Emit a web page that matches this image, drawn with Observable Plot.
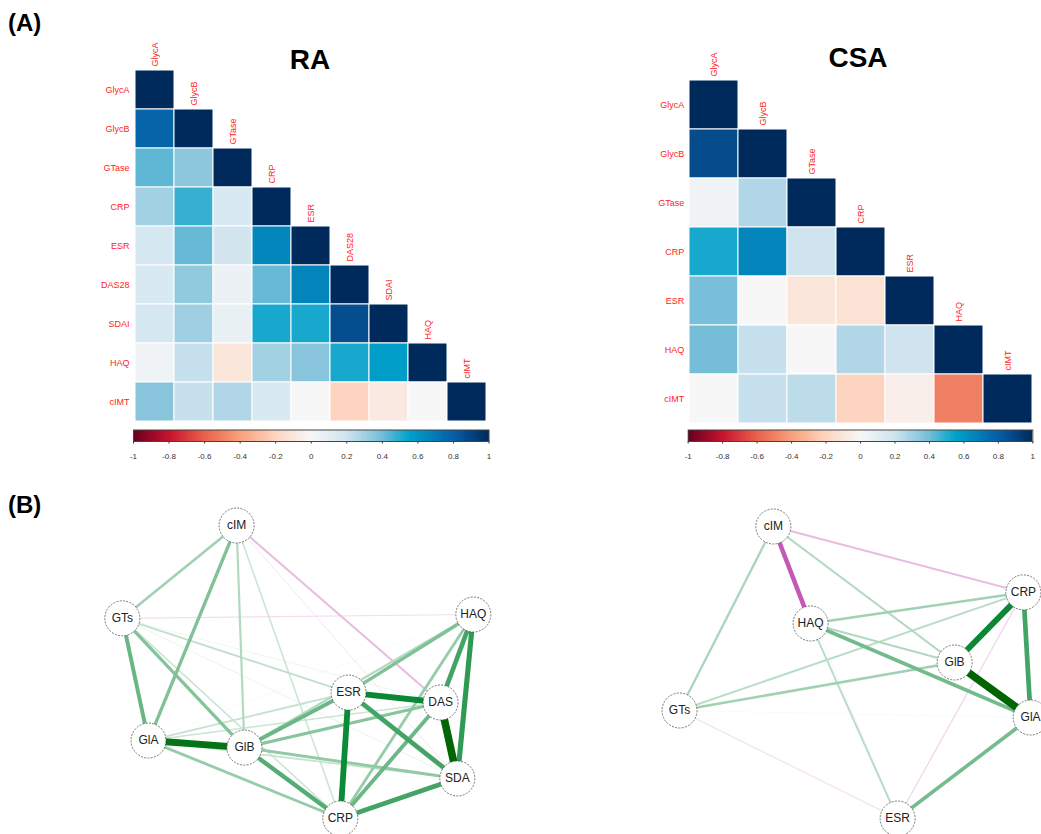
<!DOCTYPE html>
<html>
<head>
<meta charset="utf-8">
<script src="https://cdn.jsdelivr.net/npm/d3@7"></script>
<script src="https://cdn.jsdelivr.net/npm/@observablehq/plot@0.6"></script>
<style>
  body { margin: 0; background: white; }
  #root { position: relative; width: 1041px; height: 834px; overflow: hidden; background: white; font-family: "Liberation Sans", Arial, sans-serif; }
  .abs { position: absolute; }
  .panel { font-weight: bold; font-size: 24px; line-height: 24px; }
  .title { font-weight: bold; font-size: 28px; line-height: 28px; transform: translateX(-50%); }
</style>
</head>
<body>
<div id="root">
  <div class="abs panel" style="left:8px; top:11px;">(A)</div>
  <div class="abs panel" style="left:8px; top:493px;">(B)</div>
  <div class="abs title" style="left:310px; top:46px;">RA</div>
  <div class="abs title" style="left:858px; top:44px;">CSA</div>
</div>
<script>
// ---------------- data ----------------
const raVars = ["GlycA", "GlycB", "GTase", "CRP", "ESR", "DAS28", "SDAI", "HAQ", "cIMT"];
const raCorr = [
  [1],
  [0.78, 1],
  [0.43, 0.35, 1],
  [0.30, 0.48, 0.15, 1],
  [0.17, 0.42, 0.18, 0.65, 1],
  [0.15, 0.34, 0.06, 0.42, 0.66, 1],
  [0.17, 0.31, 0.07, 0.52, 0.52, 0.86, 1],
  [0.04, 0.22, -0.10, 0.30, 0.36, 0.52, 0.57, 1],
  [0.36, 0.22, 0.27, 0.15, 0.00, -0.20, -0.08, 0.00, 1]
];
const raAbbr = ["GlA", "GlB", "GTs", "CRP", "ESR", "DAS", "SDA", "HAQ", "cIM"];
const raNodeX = [0.123, 0.369, 0.056, 0.615, 0.636, 0.872, 0.915, 0.956, 0.349];
const raNodeY = [0.281, 0.259, 0.663, 0.0375, 0.431, 0.400, 0.1625, 0.675, 0.953];

const csaVars = ["GlycA", "GlycB", "GTase", "CRP", "ESR", "HAQ", "cIMT"];
const csaCorr = [
  [1],
  [0.87, 1],
  [0.04, 0.27, 1],
  [0.52, 0.66, 0.20, 1],
  [0.39, 0.00, -0.10, -0.12, 1],
  [0.40, 0.22, 0.00, 0.27, 0.20, 1],
  [0.00, 0.22, 0.24, -0.20, -0.05, -0.50, 1]
];
const csaAbbr = ["GlA", "GlB", "GTs", "CRP", "ESR", "HAQ", "cIM"];
const csaNodeX = [0.974, 0.774, 0.050, 0.955, 0.624, 0.395, 0.297];
const csaNodeY = [0.353, 0.525, 0.375, 0.744, 0.0375, 0.647, 0.950];

const colorbarTicks = [-1, -0.8, -0.6, -0.4, -0.2, 0, 0.2, 0.4, 0.6, 0.8, 1];
const corrStops  = [-1, -0.8, -0.6, -0.4, -0.2, 0, 0.2, 0.4, 0.55, 0.8, 1];
const corrColors = ["#67001f", "#c4122d", "#e8604c", "#f8a07c", "#fdd4bf", "#f7f7f7",
                    "#cfe4ef", "#76bdd8", "#00a3cb", "#065ea6", "#002a5c"];
const edgeStops  = [-0.5, 0, 0.45, 0.65, 0.87];
const edgeColors = ["#c458b4", "#ffffff", "#62b27e", "#0b8a38", "#006400"];

// ---------------- helpers ----------------
const FONT = '"Liberation Sans", Arial, sans-serif';
const root = document.getElementById("root");
function place(el, left, top) {
  el.style.position = "absolute";
  el.style.left = left + "px";
  el.style.top = top + "px";
  root.appendChild(el);
}
function corrTable(vars, corr) {
  const out = [];
  corr.forEach((row, i) => row.forEach((v, j) => out.push({row: vars[i], col: vars[j], r: v})));
  return out;
}
const corrColor = {type: "linear", domain: corrStops, range: corrColors, interpolate: "rgb"};

function heatmap(vars, corr, o) {
  const cellH = (o.height - o.mt - o.mb) / vars.length;
  return Plot.plot({
    width: o.width, height: o.height,
    marginLeft: o.ml, marginRight: o.mr, marginTop: o.mt, marginBottom: o.mb,
    style: {background: "transparent", fontFamily: FONT, fontSize: "9px", color: "#f22"},
    x: {domain: vars, padding: 0, axis: null},
    y: {domain: vars, padding: 0, tickSize: 0, tickPadding: 4, label: null},
    color: corrColor,
    marks: [
      Plot.cell(corrTable(vars, corr), {x: "col", y: "row", fill: "r", stroke: "white", strokeWidth: 1}),
      Plot.text(vars, {x: d => d, y: d => d, text: d => d, rotate: -90, textAnchor: "start",
        dy: -(cellH / 2 + 4), fill: "#f22", fontSize: 9})
    ]
  });
}
function colorbar(o) {
  const steps = d3.range(-1, 1, 0.01);
  return Plot.plot({
    width: o.width, height: 50,
    marginLeft: o.ml, marginRight: o.mr, marginTop: 9.5, marginBottom: 29,
    style: {background: "transparent", fontFamily: FONT, fontSize: "8px", color: "#333"},
    x: {domain: [-1, 1], ticks: colorbarTicks, tickSize: 2.5, tickPadding: 9, label: null,
        tickFormat: d => String(Math.round(d * 10) / 10)},
    color: corrColor,
    marks: [
      Plot.rect(steps, {x1: d => d, x2: d => Math.min(1, d + 0.025), fill: d => d + 0.005,
        shapeRendering: "crispEdges"}),
      Plot.frame({stroke: "#444", strokeWidth: 1})
    ]
  });
}
function network(vars, corr, abbr, nx, ny, o) {
  const nodes = vars.map((v, i) => ({label: abbr[i], x: nx[i], y: ny[i]}));
  const edges = [];
  corr.forEach((row, i) => row.forEach((v, j) => {
    if (i !== j) edges.push({a: nodes[i], b: nodes[j], r: v});
  }));
  edges.sort((p, q) => Math.abs(p.r) - Math.abs(q.r));
  return Plot.plot({
    width: o.width, height: o.height,
    marginLeft: o.ml, marginRight: o.mr, marginTop: o.mt, marginBottom: o.mb,
    style: {background: "transparent", fontFamily: FONT},
    x: {domain: [0, 1], axis: null},
    y: {domain: [0, 1], axis: null},
    color: {type: "linear", domain: edgeStops, range: edgeColors, interpolate: "rgb"},
    marks: [
      Plot.link(edges, {x1: d => d.a.x, y1: d => d.a.y, x2: d => d.b.x, y2: d => d.b.y,
        stroke: "r", strokeWidth: d => 8.5 * Math.abs(d.r) + 0.3}),
      Plot.dot(nodes, {x: "x", y: "y", r: 17.5, fill: "white", stroke: "#555",
        strokeWidth: 0.8, strokeDasharray: "2,1.3"}),
      Plot.text(nodes, {x: "x", y: "y", text: "label", fontSize: 12, fill: "#222"})
    ]
  });
}

// ---------------- panels ----------------
place(heatmap(raVars, raCorr, {width: 520, height: 430, ml: 133, mr: 31.5, mt: 69.3, mb: 8}), 0, 0);
place(colorbar({width: 520, ml: 133, mr: 31.5}), 0, 420);

place(heatmap(csaVars, csaCorr, {width: 501, height: 430, ml: 147.7, mr: 8.7, mt: 79.3, mb: 6.7}), 540, 0);
place(colorbar({width: 501, ml: 147.7, mr: 8.7}), 540, 420);

place(network(raVars, raCorr, raAbbr, raNodeX, raNodeY, {width: 440, height: 334, ml: 20, mr: 30, mt: 10, mb: 4}), 80, 500);
place(network(csaVars, csaCorr, csaAbbr, csaNodeX, csaNodeY, {width: 401, height: 334, ml: 20, mr: 1, mt: 10, mb: 4}), 640, 500);
</script>
</body>
</html>
